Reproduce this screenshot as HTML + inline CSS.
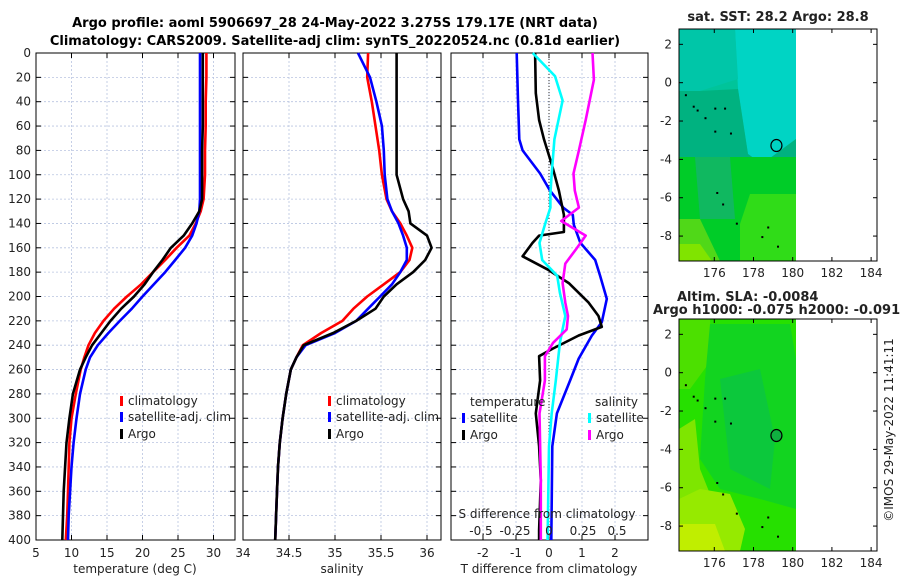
<!DOCTYPE html>
<html><head><meta charset="utf-8">
<style>
body{margin:0;background:#fff;}
svg{display:block;font-family:"DejaVu Sans","Liberation Sans",sans-serif;}
</style></head>
<body>
<svg id="fig" width="900" height="580" viewBox="0 0 900 580" xmlns="http://www.w3.org/2000/svg">
<text x="335" y="27" font-size="13" font-weight="bold" text-anchor="middle">Argo profile: aoml 5906697_28 24-May-2022 3.275S 179.17E (NRT data)</text>
<text x="335" y="45" font-size="13" font-weight="bold" text-anchor="middle">Climatology: CARS2009. Satellite-adj clim: synTS_20220524.nc (0.81d earlier)</text>
<g id="maps"></g>
<g id="panels"></g>
<text transform="translate(893,430) rotate(-90)" font-size="12" text-anchor="middle" fill="#222">©IMOS 29-May-2022 11:41:11</text>
</svg>
<script>
// ---------- data ----------
const depthGrid = [0,20,40,60,80,100,120,130,140,150,160,170,180,190,200,210,220,230,240,250,260,280,300,320,340,360,380,400];
const tempClim  = [29.0,29.0,28.9,28.9,28.8,28.8,28.6,28.2,27.5,26.6,24.8,23.2,21.5,19.8,17.8,16.0,14.5,13.3,12.4,11.8,11.3,10.6,10.0,9.7,9.6,9.5,9.4,9.2];
const tempSat   = [28.1,28.1,28.1,28.1,28.1,28.1,28.1,28.0,27.6,27.0,26.0,24.6,23.2,21.6,20.0,18.5,16.8,15.2,13.7,12.6,12.0,11.2,10.7,10.3,10.0,9.8,9.6,9.5];
const tempArgo  = [28.5,28.5,28.5,28.5,28.4,28.4,28.4,28.0,27.0,25.8,24.0,22.8,21.5,20.3,18.8,17.0,15.5,14.2,12.9,12.0,11.2,10.2,9.7,9.3,9.1,8.9,8.8,8.7];
const salClim   = [35.36,35.35,35.40,35.44,35.48,35.51,35.56,35.62,35.71,35.78,35.84,35.81,35.71,35.53,35.35,35.2,35.08,34.85,34.65,34.58,34.52,34.47,34.43,34.40,34.38,34.37,34.36,34.35];
const salSat    = [35.25,35.38,35.45,35.51,35.53,35.54,35.57,35.62,35.69,35.74,35.78,35.78,35.71,35.62,35.49,35.36,35.23,35.0,34.68,34.58,34.52,34.47,34.43,34.40,34.38,34.37,34.36,34.35];
const salArgo   = [35.67,35.67,35.67,35.67,35.67,35.67,35.74,35.80,35.82,36.0,36.05,35.98,35.85,35.67,35.53,35.44,35.23,34.98,34.66,34.58,34.52,34.47,34.43,34.40,34.38,34.37,34.36,34.35];

const dTsatDepth = [0,39,71,80,99,113,127,133,141,156,170,183,202,221,232,251,269,296,323,400];
const dTsat      = [-0.98,-0.94,-0.9,-0.8,-0.27,0.03,0.43,0.72,0.75,0.95,1.4,1.55,1.75,1.6,1.3,0.9,0.64,0.24,0.1,0.07];
const dTargoDepth = [0,33,55,71,93,113,133,147,150,156,167,178,189,205,216,225,232,243,249,269,296,323,351,392,400];
const dTargo      = [-0.42,-0.4,-0.3,-0.15,0.1,0.3,0.45,0.45,-0.3,-0.5,-0.8,-0.03,0.6,1.2,1.5,1.6,0.9,0.1,-0.3,-0.27,-0.4,-0.3,-0.25,-0.3,-0.3];
const dSsatDepth = [0,19,39,71,99,116,127,141,156,170,183,197,216,238,269,296,323,400];
const dSsat      = [-0.12,0.044,0.1,0.04,0.02,0.01,0.01,-0.03,-0.07,-0.05,0.06,0.08,0.12,0.08,0.05,0.02,0.0,-0.01];
const dSargoDepth = [0,22,55,80,99,113,127,138,150,161,173,189,205,216,227,238,249,269,296,351,400];
const dSargo      = [0.32,0.33,0.27,0.22,0.18,0.19,0.22,0.09,0.27,0.2,0.12,0.1,0.12,0.14,0.13,0.03,-0.03,-0.03,-0.07,-0.06,-0.06];

const depthTicks = [0,20,40,60,80,100,120,140,160,180,200,220,240,260,280,300,320,340,360,380,400];
const tempTicks = [5,10,15,20,25,30];
const salTicks = [34.5,35,35.5,36];
const salTickLabels = ["34.5","35","35.5","36"];
const dTTicks = [-2,-1,0,1,2];
const dSTicks = [-0.5,-0.25,0,0.25,0.5];
const dSTickLabels = ["-0.5","-0.25","0","0.25","0.5"];
const latTicks = [2,0,-2,-4,-6,-8];
const lonTicks = [176,178,180,182,184];

// ---------- axis functions ----------
const yD = d => 53 + d*487/400;
const xT = t => 36 + (t-5)*7.1;
const xS = s => 243 + (s-34)*92;
const xdT = v => 549 + v*33;
const xdS = v => 549 + v*136;

const NS = "http://www.w3.org/2000/svg";
function mk(tag, attrs, parent, txt){
  const e = document.createElementNS(NS, tag);
  for (const k in attrs) e.setAttribute(k, attrs[k]);
  if (txt !== undefined) e.textContent = txt;
  parent.appendChild(e);
  return e;
}
const panels = document.getElementById('panels');
const maps = document.getElementById('maps');

function panel(name, x0, x1, gridXs){
  const g = mk('g', {}, panels);
  
  
  const y0 = 53, y1 = 540;
  depthTicks.forEach(d=>{
    const y = yD(d);
    if (d>0 && d<400){
      const l = mk('line',{x1:x0,x2:x1,y1:y,y2:y,stroke:'#b8c4e0','stroke-width':0.8,'stroke-dasharray':'2,2'},g);
      
      
    }
    mk('line',{x1:x0,x2:x0+5,y1:y,y2:y,stroke:'#000'},g);
    mk('line',{x1:x1-5,x2:x1,y1:y,y2:y,stroke:'#000'},g);
  });
  gridXs.forEach(x=>{
    const l = mk('line',{x1:x,x2:x,y1:y0,y2:y1,stroke:'#b8c4e0','stroke-width':0.8,'stroke-dasharray':'2,2'},g);
    
    
    mk('line',{x1:x,x2:x,y1:y0,y2:y0+5,stroke:'#000'},g);
    mk('line',{x1:x,x2:x,y1:y1-5,y2:y1,stroke:'#000'},g);
  });
  const r = mk('rect',{x:x0,y:y0,width:x1-x0,height:y1-y0,fill:'none',stroke:'#000','stroke-width':1},g);
  
  
  return g;
}
function series(g, name, depths, vals, xf, color){
  const pts = depths.map((d,i)=>xf(vals[i]).toFixed(1)+','+yD(d).toFixed(1)).join(' ');
  const p = mk('polyline',{points:pts,fill:'none',stroke:color,'stroke-width':2.6,'stroke-linejoin':'round'},g);
  
  
}
function label(g, name, x, y, txt, anchor, size){
  const t = mk('text',{x:x,y:y,'font-size':size||12,'text-anchor':anchor||'middle',fill:'#222'},g,txt);
  
  
  return t;
}

// Panel 1: temperature
const p1 = panel('temperature-panel', 36, 235, tempTicks.slice(1).map(xT));
depthTicks.forEach(d=>label(p1,'y-tick-label',31,yD(d)+4,String(d),'end'));
tempTicks.forEach(t=>label(p1,'x-tick-label',xT(t),557,String(t)));
label(p1,'x-axis-title',xT(5)+99,573,'temperature (deg C)');
series(p1,'temp-climatology-line',depthGrid,tempClim,xT,'#ff0000');
series(p1,'temp-satellite-line',depthGrid,tempSat,xT,'#0000ff');
series(p1,'temp-argo-line',depthGrid,tempArgo,xT,'#000000');
[['#ff0000','climatology',405],['#0000ff','satellite-adj. clim',421],['#000000','Argo',438]].forEach(e=>{
  const r = mk('rect',{x:120,y:e[2]-9,width:3,height:10,fill:e[0]},p1);
  
  
  label(p1,'legend-entry',128,e[2],e[1],'start');
});

// Panel 2: salinity
const p2 = panel('salinity-panel', 243, 441, salTicks.map(xS));
label(p2,'x-tick-label',xS(34),557,'34');
salTicks.forEach((s,i)=>label(p2,'x-tick-label',xS(s),557,salTickLabels[i]));
label(p2,'x-axis-title',342,573,'salinity');
series(p2,'sal-climatology-line',depthGrid,salClim,xS,'#ff0000');
series(p2,'sal-satellite-line',depthGrid,salSat,xS,'#0000ff');
series(p2,'sal-argo-line',depthGrid,salArgo,xS,'#000000');
[['#ff0000','climatology',405],['#0000ff','satellite-adj. clim',421],['#000000','Argo',438]].forEach(e=>{
  const r = mk('rect',{x:328,y:e[2]-9,width:3,height:10,fill:e[0]},p2);
  
  
  label(p2,'legend-entry',336,e[2],e[1],'start');
});

// Panel 3: differences
const p3 = panel('difference-panel', 451, 648, dTTicks.map(xdT));
const zl = mk('line',{x1:xdT(0),x2:xdT(0),y1:53,y2:540,stroke:'#333','stroke-width':1,'stroke-dasharray':'1,2'},p3);


series(p3,'dT-satellite-line',dTsatDepth,dTsat,xdT,'#0000ff');
series(p3,'dT-argo-line',dTargoDepth,dTargo,xdT,'#000000');
series(p3,'dS-satellite-line',dSsatDepth,dSsat,xdS,'#00ffff');
series(p3,'dS-argo-line',dSargoDepth,dSargo,xdS,'#ff00ff');
dTTicks.forEach(v=>label(p3,'x-tick-label',xdT(v),557,String(v)));
label(p3,'x-axis-title',549,573,'T difference from climatology');
label(p3,'s-axis-title',547,518,'S difference from climatology');
dSTicks.forEach((v,i)=>label(p3,'s-tick-label',xdS(v),535,dSTickLabels[i]));
label(p3,'legend-title-temperature',470,406,'temperature','start');
label(p3,'legend-title-salinity',595,406,'salinity','start');
[['#0000ff',462,'satellite',422],['#000000',462,'Argo',439],['#00ffff',588,'satellite',422],['#ff00ff',588,'Argo',439]].forEach(e=>{
  const r = mk('rect',{x:e[1],y:e[3]-9,width:3,height:10,fill:e[0]},p3);
  
  
  label(p3,'legend-entry',e[1]+8,e[3],e[2],'start');
});

// ---------- maps ----------
function mapPanel(name, top, title, layers, circleFill){
  const g = mk('g',{},maps);
  
  
  const x0=679,x1=877,h=232;
  const yL = lat => top + (2.8-lat)*h/12.1;
  const xL = lon => x0 + (lon-174.2)*(x1-x0)/10.1;
  layers.forEach(l=>{
    const pts = l[1].map(p=>p[0]+','+(top+p[1])).join(' ');
    mk('polygon',{points:pts,fill:l[0]},g);
  });
  [[174.5,-0.6],[174.9,-1.2],[175.1,-1.4],[175.5,-1.8],[176.0,-1.3],[176.5,-1.3],[176.0,-2.5],[176.8,-2.6],[176.1,-5.7],[176.4,-6.3],[177.1,-7.3],[178.4,-8.0],[178.7,-7.5],[179.2,-8.5]].forEach(p=>{
    mk('rect',{x:xL(p[0]),y:yL(p[1]),width:2,height:2,fill:'#000'},g);
  });
  const c = mk('ellipse',{cx:xL(179.17),cy:yL(-3.275),rx:5.5,ry:6,fill:circleFill,stroke:'#000','stroke-width':1.2},g);
  
  
  const fr = mk('rect',{x:x0,y:top,width:x1-x0,height:h,fill:'none',stroke:'#000'},g);
  
  
  latTicks.forEach(lat=>{
    const y=yL(lat);
    mk('line',{x1:x0,x2:x0+4,y1:y,y2:y,stroke:'#000'},g);
    mk('line',{x1:x1-4,x2:x1,y1:y,y2:y,stroke:'#000'},g);
    label(g,'lat-tick-label',672,y+4,String(lat),'end');
  });
  lonTicks.forEach(lon=>{
    const x=xL(lon);
    mk('line',{x1:x,x2:x,y1:top+h-4,y2:top+h,stroke:'#000'},g);
    mk('line',{x1:x,x2:x,y1:top,y2:top+4,stroke:'#000'},g);
    label(g,'lon-tick-label',x,top+h+16,String(lon));
  });
  title.forEach(t=>{
    const tt = label(g,'map-title',t[0],t[1],t[2],t[3]||'middle',13);
    tt.setAttribute('font-weight','bold');
  });
}
mapPanel('sst-map',29,[[778,21,'sat. SST: 28.2 Argo: 28.8']],[
  ['#00c49a',[[679,0],[796,0],[796,232],[679,232]]],
  ['#00d4c4',[[735,0],[796,0],[796,110],[762,135],[748,125],[738,60]]],
  ['#00c6a8',[[679,0],[735,0],[738,50],[700,62],[679,62]]],
  ['#00b280',[[679,62],[700,62],[738,60],[748,125],[762,135],[796,110],[796,128],[679,128]]],
  ['#00cc28',[[679,128],[796,128],[796,232],[679,232]]],
  ['#10b860',[[695,128],[730,128],[735,190],[700,190]]],
  ['#30dc18',[[750,165],[796,165],[796,232],[740,232],[740,195]]],
  ['#50d818',[[679,190],[700,190],[720,232],[679,232]]],
  ['#80e400',[[679,215],[700,215],[712,232],[679,232]]]
],'none');
mapPanel('sla-map',319,[[677,301,'Altim. SLA: -0.0084','start'],[653,314,'Argo h1000: -0.075 h2000: -0.091','start']],[
  ['#26e000',[[679,0],[796,0],[796,232],[679,232]]],
  ['#4ce000',[[679,0],[710,0],[712,40],[690,70],[679,70]]],
  ['#12d420',[[710,5],[790,5],[796,40],[796,190],[760,180],[720,170],[700,140],[705,60]]],
  ['#0cc83c',[[720,60],[760,50],[775,120],[770,170],[730,150]]],
  ['#7ee600',[[679,110],[695,100],[700,150],[710,175],[690,190],[679,190]]],
  ['#96ea00',[[679,180],[700,170],[730,175],[745,210],[740,232],[679,232]]],
  ['#c0ee00',[[679,205],[715,205],[725,232],[679,232]]]
],'#10b040');
</script>
</body></html>
